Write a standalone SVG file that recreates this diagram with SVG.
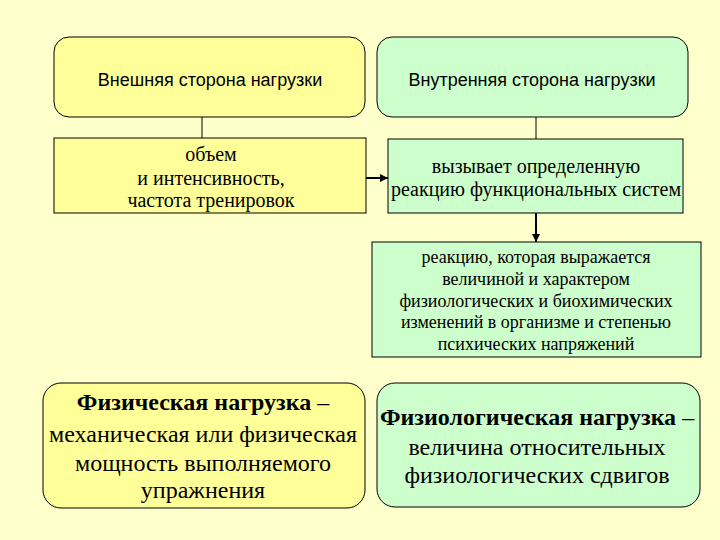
<svg xmlns="http://www.w3.org/2000/svg" width="720" height="540" viewBox="0 0 720 540">
<defs>
<style>
.y{fill:#FFFF99;stroke:#000;stroke-width:1}
.g{fill:#CCFFCC;stroke:#000;stroke-width:1}
.sans{font-family:"Liberation Sans",Arial,sans-serif;font-size:18px;fill:#000;text-anchor:middle}
.ser{font-family:"Liberation Serif","Times New Roman",serif;font-size:20px;fill:#000;text-anchor:middle}
.sm{font-size:18px}
.big{font-family:"Liberation Serif","Times New Roman",serif;font-size:24px;fill:#000;text-anchor:middle}
.b{font-weight:bold}
.ln{stroke:#000;stroke-width:1;fill:none}
.ar{stroke:#000;stroke-width:2;fill:none}
</style>
<marker id="ah" viewBox="0 0 10 10" refX="10" refY="5" markerWidth="4" markerHeight="4" orient="auto" markerUnits="strokeWidth">
<path d="M0,0 L10,5 L0,10 z" fill="#000"/>
</marker>
</defs>
<rect width="720" height="540" fill="#FFFFCC"/>
<g id="connectors">
<line class="ln" x1="202" y1="117" x2="202" y2="138"/>
<line class="ln" x1="536" y1="117" x2="536" y2="139"/>
<line class="ar" x1="366" y1="178" x2="388" y2="178" marker-end="url(#ah)"/>
<line class="ar" x1="536" y1="213" x2="536" y2="242" marker-end="url(#ah)"/>
</g>
<g id="outer">
<rect class="y" x="54" y="37" width="311" height="80" rx="15"/>
<text class="sans" x="210" y="86">Внешняя сторона нагрузки</text>
</g>
<g id="inner">
<rect class="g" x="377" y="37" width="311" height="80" rx="15"/>
<text class="sans" x="532" y="86">Внутренняя сторона нагрузки</text>
</g>
<g id="volume">
<rect class="y" x="54" y="138" width="312" height="75"/>
<text class="ser" x="211" y="161">объем</text>
<text class="ser" x="211" y="185">и интенсивность,</text>
<text class="ser" x="211" y="207">частота тренировок</text>
</g>
<g id="reaction">
<rect class="g" x="388" y="139" width="295" height="74"/>
<text class="ser" x="536" y="173">вызывает определенную</text>
<text class="ser" x="536" y="196">реакцию функциональных систем</text>
</g>
<g id="reaction-detail">
<rect class="g" x="372" y="242" width="329" height="115"/>
<text class="ser sm" x="536" y="263">реакцию, которая выражается</text>
<text class="ser sm" x="536" y="285">величиной и характером</text>
<text class="ser sm" x="536" y="307">физиологических и биохимических</text>
<text class="ser sm" x="536" y="328">изменений в организме и степенью</text>
<text class="ser sm" x="536" y="350">психических напряжений</text>
</g>
<g id="physical">
<rect class="y" x="43" y="383" width="322" height="125" rx="18"/>
<text class="big" x="203" y="410"><tspan class="b">Физическая нагрузка</tspan> –</text>
<text class="big" x="203" y="442">механическая или физическая</text>
<text class="big" x="203" y="471">мощность выполняемого</text>
<text class="big" x="203" y="498">упражнения</text>
</g>
<g id="physiological">
<rect class="g" x="377" y="383" width="323" height="124" rx="18"/>
<text class="big" x="537" y="425"><tspan class="b">Физиологическая нагрузка</tspan> –</text>
<text class="big" x="537" y="455">величина относительных</text>
<text class="big" x="537" y="483">физиологических сдвигов</text>
</g>
</svg>
